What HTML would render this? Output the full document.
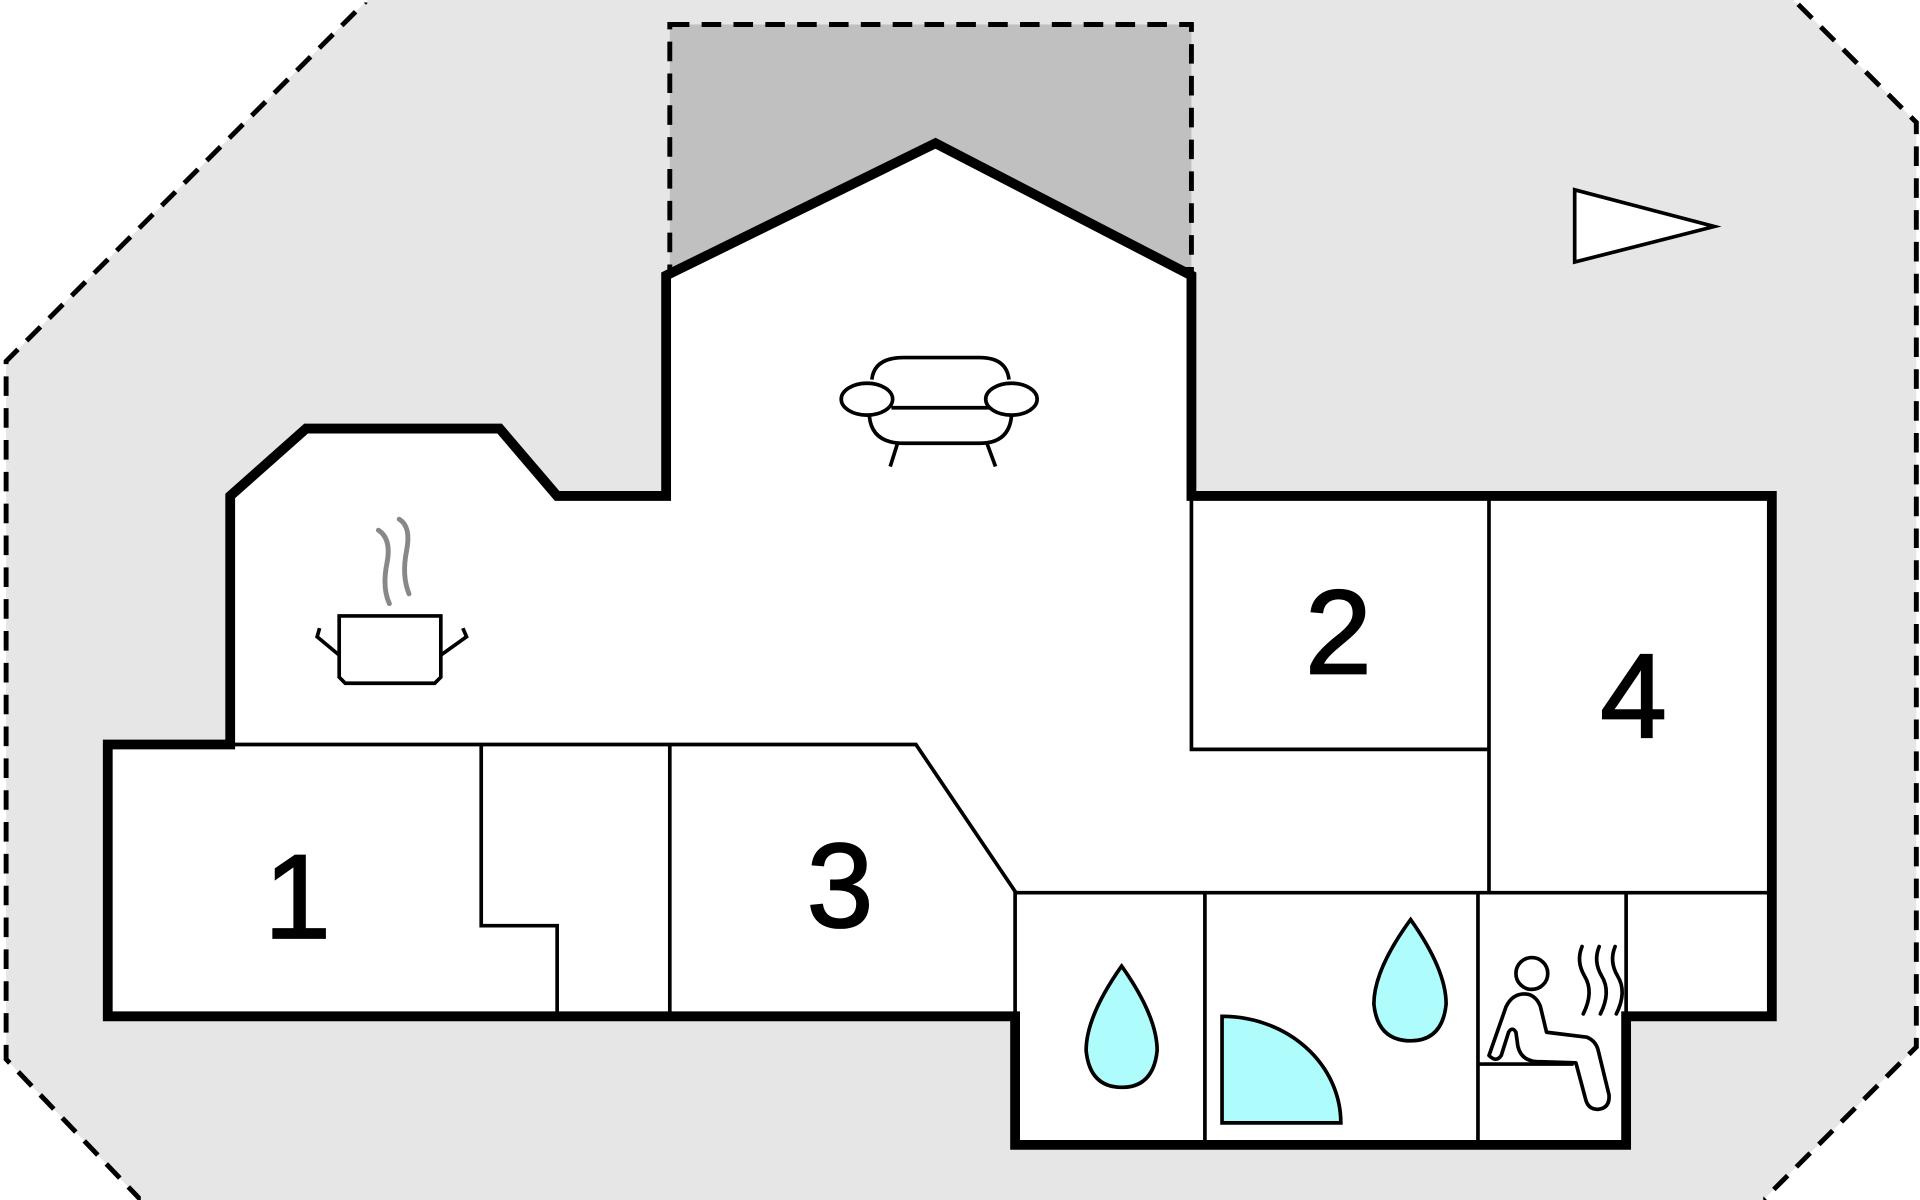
<!DOCTYPE html>
<html><head><meta charset="utf-8"><style>
html,body{margin:0;padding:0;background:#fff;}
svg{display:block;}
</style></head><body>
<svg width="1920" height="1200" viewBox="0 0 1568 980" preserveAspectRatio="none" xmlns="http://www.w3.org/2000/svg">
<polygon points="300,0 1465,0 1565,100 1565,855 1440,980 115,980 5,865 5,295" fill="#e6e6e6" stroke="#000" stroke-width="4" stroke-dasharray="16,10"/>
<rect x="0" y="-3" width="1568" height="5" fill="#fff"/>
<rect x="300" y="0" width="1165" height="3" fill="#e6e6e6"/>
<rect x="115" y="977" width="1325" height="3" fill="#e6e6e6"/>
<rect x="547" y="20" width="426" height="200" fill="#c0c0c0" stroke="#000" stroke-width="4" stroke-dasharray="16,10"/>
<polygon points="544,225 764,117 973,225 973,405 1447,405 1447,830 1328,830 1328,935 829,935 829,830 88,830 88,608 188,608 188,405 250,350 408,350 455,405 544,405" fill="#fff" stroke="#000" stroke-width="8"/>
<g fill="none" stroke="#000" stroke-width="3">
<polyline points="188,608 748,608 829,728 829,830"/>
<polyline points="393,608 393,756 455,756 455,830"/>
<line x1="547" y1="608" x2="547" y2="830"/>
<polyline points="973,405 973,612 1216,612"/>
<line x1="1216" y1="405" x2="1216" y2="729"/>
<line x1="829" y1="729" x2="1447" y2="729"/>
<line x1="984" y1="729" x2="984" y2="935"/>
<line x1="1207" y1="729" x2="1207" y2="935"/>
<line x1="1328" y1="729" x2="1328" y2="830"/>
<line x1="1207" y1="869" x2="1285" y2="869"/>
</g>
<g font-family="Liberation Sans, sans-serif" font-size="98" text-anchor="middle" fill="#000" stroke="#000" stroke-width="1.5">
<text x="243" y="766">1</text>
<text x="1093" y="550">2</text>
<text x="686" y="757">3</text>
<text x="1334" y="602">4</text>
</g>
<polygon points="1286,155 1400,185 1286,214" fill="#fff" stroke="#000" stroke-width="3"/>
<g fill="#fff" stroke="#000" stroke-width="3">
<path d="M712,310 Q714,292 738,292 L800,292 Q822,292 824,310"/>
<path d="M710,340 Q712,362 738,362 L800,362 Q824,362 826,340"/>
<line x1="728" y1="333" x2="808" y2="333"/>
<ellipse cx="708" cy="326" rx="21" ry="13"/>
<ellipse cx="826" cy="326" rx="21" ry="13"/>
<line x1="733" y1="362" x2="727" y2="381"/>
<line x1="806" y1="362" x2="813" y2="381"/>
</g>
<g fill="#fff" stroke="#000" stroke-width="3">
<path d="M277,503 L360,503 L360,553 L355,558 L282,558 L277,553 Z"/>
<path d="M277,535 L259,520 L261,513"/>
<path d="M360,535 L381,520 L378,513"/>
</g>
<g fill="none" stroke="#888" stroke-width="4" stroke-linecap="round">
<path d="M309,433 Q320,440 316,460 Q312,480 318,493"/>
<path d="M326,424 Q336,430 332,450 Q328,470 334,485"/>
</g>
<g fill="#aefcfc" stroke="#000" stroke-width="3">
<path d="M916,789 Q887,830 887,858 Q890,888 916,888 Q942,888 945,858 Q945,830 916,789 Z"/>
<path d="M1152,751 Q1122,792 1122,820 Q1125,850 1152,850 Q1178,850 1181,820 Q1181,792 1152,751 Z"/>
<path d="M998,830 A97,87 0 0 1 1095,917 L998,917 Z"/>
</g>
<g fill="#fff" stroke="#000" stroke-width="3" stroke-linejoin="round">
<circle cx="1251" cy="795" r="13"/>
<path d="M1216,862 L1230,822 Q1236,810 1248,812 Q1255,814 1258,822 L1263,843 L1296,847 Q1303,850 1305,857 L1314,894 Q1315,905 1305,906 Q1297,906 1295,898 L1287,868 L1255,867 Q1240,866 1239,850 L1238,843 Q1235,838 1232,843 L1226,862 Q1222,868 1216,862 Z"/>
</g>
<g fill="none" stroke="#000" stroke-width="3" stroke-linecap="round">
<path d="M1292,773 Q1287,785 1294,797 Q1302,810 1293,828"/>
<path d="M1306,773 Q1301,785 1308,797 Q1316,810 1307,828"/>
<path d="M1319,773 Q1314,785 1321,797 Q1329,810 1320,828"/>
</g>
</svg>
</body></html>
